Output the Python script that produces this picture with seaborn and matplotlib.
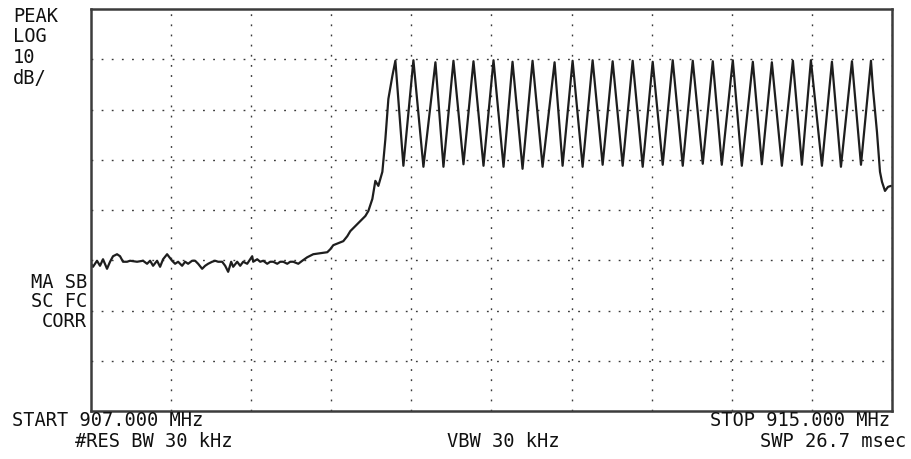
import numpy as np
import pandas as pd
import matplotlib
matplotlib.use("Agg")
import matplotlib.pyplot as plt
import seaborn as sns

# noise floor + rising edge (MHz, dB rel. ref level)
noise_freq = [907.00, 907.02, 907.06, 907.09, 907.12, 907.16, 907.19, 907.22, 907.26, 907.29,
              907.32, 907.36, 907.39, 907.46, 907.52, 907.56, 907.59, 907.62, 907.66, 907.69,
              907.72, 907.76, 907.81, 907.84, 907.87, 907.91, 907.94, 907.97, 908.01, 908.04,
              908.07, 908.11, 908.14, 908.17, 908.21, 908.24, 908.27, 908.31, 908.34, 908.37,
              908.40, 908.42, 908.46, 908.49, 908.52, 908.56, 908.59, 908.61, 908.62, 908.66,
              908.69, 908.72, 908.76, 908.79, 908.82, 908.86, 908.89, 908.92, 908.96, 908.99,
              909.02, 909.07, 909.11, 909.16, 909.22, 909.29, 909.36, 909.39, 909.42, 909.47,
              909.52, 909.56, 909.59, 909.66, 909.74, 909.77, 909.81, 909.84, 909.87, 909.91,
              909.94, 909.97, 910.01]
noise_db = [-50.7, -51.3, -50.1, -51.1, -49.8, -51.7, -50.3, -49.2, -48.8, -49.2,
            -50.3, -50.3, -50.1, -50.3, -50.1, -50.7, -50.1, -51.1, -50.1, -51.3,
            -49.8, -48.8, -50.1, -50.7, -50.3, -51.1, -50.3, -50.7, -50.1, -50.1,
            -50.7, -51.7, -51.1, -50.7, -50.3, -50.1, -50.3, -50.3, -51.1, -52.3,
            -50.3, -51.3, -50.3, -51.1, -50.3, -50.7, -49.8, -49.2, -50.3, -49.8,
            -50.3, -50.1, -50.7, -50.3, -50.3, -50.7, -50.3, -50.3, -50.7, -50.3,
            -50.3, -50.7, -50.1, -49.4, -48.8, -48.6, -48.4, -47.8, -47.0, -46.6,
            -46.2, -45.2, -44.2, -42.8, -41.2, -40.2, -37.8, -34.2, -35.2, -32.4,
            -25.9, -17.9, -13.3]

peak_freq = [910.04, 910.22, 910.44, 910.62, 910.82, 911.02, 911.21, 911.41, 911.63, 911.81,
             912.01, 912.21, 912.41, 912.61, 912.81, 913.01, 913.21, 913.41, 913.61, 913.80,
             914.01, 914.19, 914.40, 914.60, 914.79]
peak_db = [-10.3, -10.2, -10.6, -10.3, -10.4, -10.2, -10.5, -10.3, -10.6, -10.3,
           -10.2, -10.4, -10.3, -10.5, -10.2, -10.3, -10.4, -10.2, -10.5, -10.6,
           -10.3, -10.2, -10.5, -10.4, -10.3]

trough_freq = [910.12, 910.32, 910.52, 910.72, 910.92, 911.12, 911.31, 911.51, 911.71, 911.91,
               912.11, 912.31, 912.51, 912.71, 912.91, 913.11, 913.30, 913.50, 913.70, 913.90,
               914.10, 914.30, 914.49, 914.69]
trough_db = [-31.2, -31.4, -31.4, -30.9, -31.2, -31.4, -31.8, -31.4, -31.2, -31.4,
             -31.0, -31.2, -31.4, -31.0, -31.2, -30.8, -31.0, -31.2, -30.9, -31.2,
             -31.0, -31.2, -31.4, -31.0]

tail_freq = [914.81, 914.85, 914.88, 914.90, 914.93, 914.96, 914.99]
tail_db = [-15.9, -24.5, -32.4, -34.4, -36.2, -35.4, -35.2]

trace = pd.concat([
    pd.DataFrame({"freq": noise_freq, "db": noise_db}),
    pd.DataFrame({"freq": peak_freq, "db": peak_db}),
    pd.DataFrame({"freq": trough_freq, "db": trough_db}),
    pd.DataFrame({"freq": tail_freq, "db": tail_db}),
]).sort_values("freq").reset_index(drop=True)

sns.set_theme(style="white")
plt.rcParams["font.family"] = ["DejaVu Sans Mono"]

fig = plt.figure(figsize=(9.11, 4.60), dpi=100)
ax = fig.add_axes([91 / 911, 1 - 412 / 460, 801 / 911, 402 / 460])

sns.lineplot(data=trace, x="freq", y="db", ax=ax, color="#1e1e1e",
             linewidth=1.6, sort=False, estimator=None)

ax.set_xlim(907, 915)
ax.set_ylim(-80, 0)
ax.set_xticks(np.arange(907.8, 915, 0.8))
ax.set_yticks(np.arange(-70, 0, 10))
ax.tick_params(length=0, labelbottom=False, labelleft=False)
ax.set_xlabel("")
ax.set_ylabel("")
ax.grid(True, color="#3a3a3a", linestyle=(0, (1.3, 6)), linewidth=1.0)
for s in ax.spines.values():
    s.set_color("#3c3c3c")
    s.set_linewidth(1.8)

txt = dict(fontsize=13.5, color="#111111")
# left annotation block
fig.text(13 / 911, 1 - 16 / 460, "PEAK", va="center", ha="left", **txt)
fig.text(13 / 911, 1 - 37 / 460, "LOG", va="center", ha="left", **txt)
fig.text(13 / 911, 1 - 58 / 460, "10", va="center", ha="left", **txt)
fig.text(13 / 911, 1 - 79 / 460, "dB/", va="center", ha="left", **txt)
fig.text(87 / 911, 1 - 282 / 460, "MA SB", va="center", ha="right", **txt)
fig.text(87 / 911, 1 - 302 / 460, "SC FC", va="center", ha="right", **txt)
fig.text(87 / 911, 1 - 322 / 460, "CORR", va="center", ha="right", **txt)

# bottom annotation lines
fig.text(12 / 911, 1 - 421 / 460, "START 907.000 MHz", va="center", ha="left", **txt)
fig.text(890 / 911, 1 - 421 / 460, "STOP 915.000 MHz", va="center", ha="right", **txt)
fig.text(75 / 911, 1 - 442 / 460, "#RES BW 30 kHz", va="center", ha="left", **txt)
fig.text(503 / 911, 1 - 442 / 460, "VBW 30 kHz", va="center", ha="center", **txt)
fig.text(906 / 911, 1 - 442 / 460, "SWP 26.7 msec", va="center", ha="right", **txt)

fig.savefig("out.png", dpi=100, facecolor="white")
